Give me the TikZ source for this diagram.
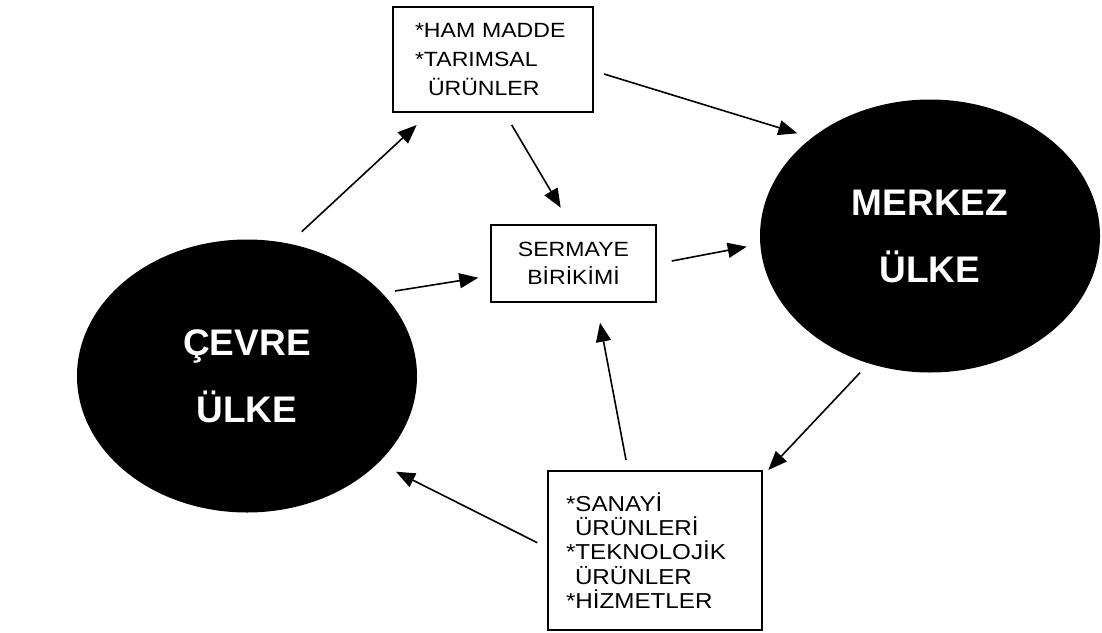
\documentclass[tikz,border=0pt]{standalone}
\usepackage{fontspec}
\setmainfont{Liberation Sans}
\newfontfamily\boxfont[FakeStretch=1.12]{Liberation Sans}
\usetikzlibrary{shapes.geometric,arrows.meta}
\begin{document}
\begin{tikzpicture}[x=1pt,y=-1pt,
  country/.style={ellipse, fill=black, draw=none, inner sep=0pt,
    minimum width=340pt, minimum height=273pt, text=white, align=center,
    font=\bfseries\fontsize{37}{67}\selectfont},
  box/.style={draw=black, line width=1.6pt, rectangle, inner ysep=0pt},
  flow/.style={-{Triangle[length=19pt,width=15pt]}, line width=1.6pt}
]
\useasboundingbox (0,0) rectangle (1102,632);

% countries
\node[country] (cevre) at (247,376) {ÇEVRE\\ÜLKE};
\node[country] (merkez) at (930,236) {MERKEZ\\ÜLKE};

% boxes
\node[box, minimum width=200pt, minimum height=105pt, inner xsep=22pt,
      text width=156pt, align=left, font=\boxfont\fontsize{20.6}{29}\selectfont]
  (ham) at (493,59.5) {{*}HAM MADDE\\{*}TARIMSAL\\\hspace*{13pt}ÜRÜNLER};
\node[box, minimum width=165pt, minimum height=77pt, inner xsep=0pt,
      align=center, font=\boxfont\fontsize{20.6}{28}\selectfont]
  (serm) at (573.5,263.5) {SERMAYE\\BİRİKİMİ};
\node[box, minimum width=214pt, minimum height=159pt, inner xsep=18pt,
      text width=178pt, align=left, font=\boxfont\fontsize{21.6}{24.2}\selectfont]
  (san) at (655,550.5) {{*}SANAYİ\\\hspace*{9pt}ÜRÜNLERİ\\{*}TEKNOLOJİK\\\hspace*{9pt}ÜRÜNLER\\{*}HİZMETLER};

% connector ends
\coordinate (a1s) at (301.7,231.7); \coordinate (a1e) at (416.7,125);
\coordinate (a2s) at (604,74);      \coordinate (a2e) at (797.3,133.3);
\coordinate (a3s) at (511.7,125);   \coordinate (a3e) at (560.7,207.7);
\coordinate (a4s) at (395,291);     \coordinate (a4e) at (478.3,277.7);
\coordinate (a5s) at (671.7,261);   \coordinate (a5e) at (746.7,246.7);
\coordinate (a6s) at (860,372.7);   \coordinate (a6e) at (768.3,470);
\coordinate (a7s) at (626,460);     \coordinate (a7e) at (600,322.7);
\coordinate (a8s) at (537.3,542.7); \coordinate (a8e) at (396,471.7);

\draw[flow] (a1s) -- (a1e);
\draw[flow] (a2s) -- (a2e);
\draw[flow] (a3s) -- (a3e);
\draw[flow] (a4s) -- (a4e);
\draw[flow] (a5s) -- (a5e);
\draw[flow] (a6s) -- (a6e);
\draw[flow] (a7s) -- (a7e);
\draw[flow] (a8s) -- (a8e);
\end{tikzpicture}
\end{document}
